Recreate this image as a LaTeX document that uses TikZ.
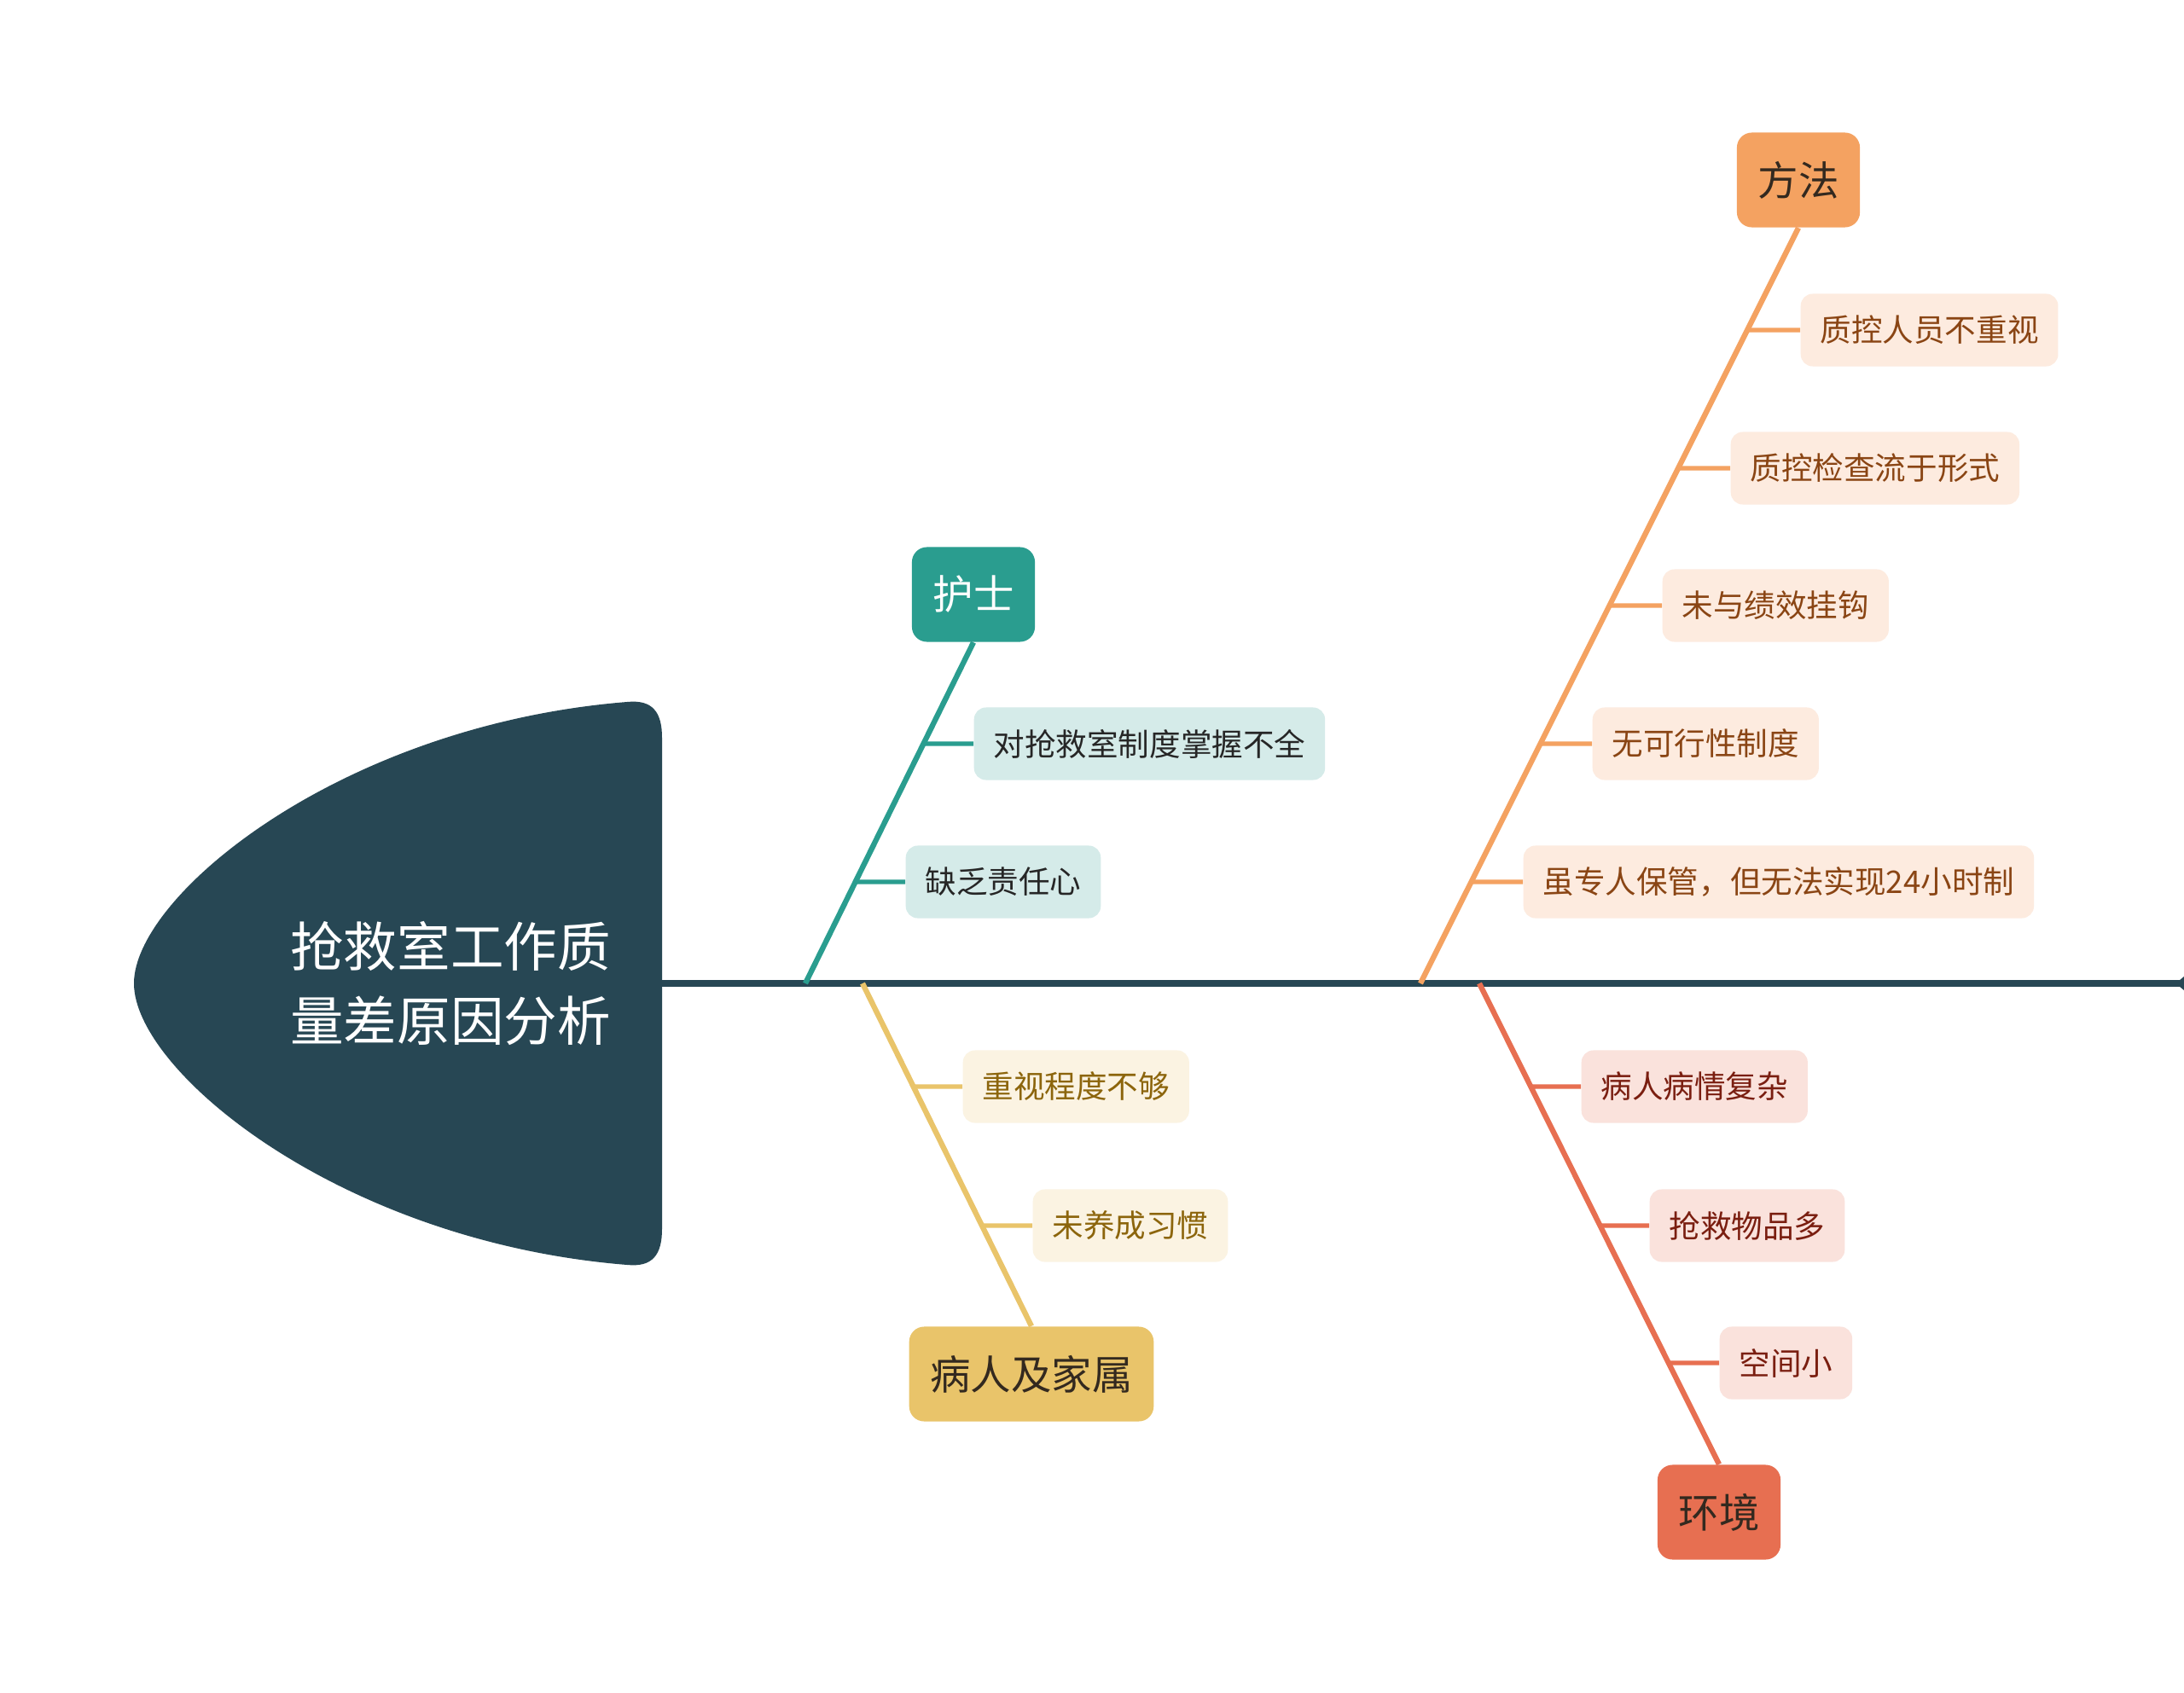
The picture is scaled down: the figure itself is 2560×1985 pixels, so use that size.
\documentclass[tikz,border=0pt]{standalone}
\usepackage{fontspec}
\newfontfamily\cjk{Noto Sans CJK SC}
\usetikzlibrary{arrows.meta}

\definecolor{headblue}{HTML}{274754}
\definecolor{teal1}{HTML}{2A9D8F}
\definecolor{teal2}{HTML}{D5EBE9}
\definecolor{orng1}{HTML}{F4A261}
\definecolor{orng2}{HTML}{FDEBDF}
\definecolor{orngtxt}{HTML}{8A4514}
\definecolor{yell1}{HTML}{E9C46A}
\definecolor{yell2}{HTML}{FBF3E2}
\definecolor{yelltxt}{HTML}{8C650C}
\definecolor{red1}{HTML}{E76F51}
\definecolor{red2}{HTML}{FAE2DC}
\definecolor{redtxt}{HTML}{7A1E10}
\definecolor{darktxt}{HTML}{33291F}

\tikzset{
  catbox/.style={rounded corners=5pt, minimum height=1.11cm, inner xsep=7pt, font=\cjk\fontsize{13.5pt}{16pt}\selectfont},
  leafbox/.style={rounded corners=4pt, minimum height=0.85cm, inner xsep=6.5pt, anchor=west, font=\cjk\fontsize{10.4pt}{12pt}\selectfont},
  bone/.style={line width=1.8pt},
  twig/.style={line width=1.5pt}
}

\begin{document}
\begin{tikzpicture}[x=0.01cm, y=-0.01cm]
\useasboundingbox (0,0) rectangle (2560,1985);
\fill[white] (0,0) rectangle (2560,1985);

% fish head
\fill[headblue] (157,1153) .. controls (157,1050) and (400,850) .. (735,823) .. controls (765,820) and (776,835) .. (776,865) -- (776,1441) .. controls (776,1471) and (765,1486) .. (735,1483) .. controls (400,1456) and (157,1256) .. (157,1153) -- cycle;
\node[font=\cjk\fontsize{17.8pt}{24.8pt}\selectfont, text=white, align=left] (title) at (528,1153) {抢救室工作质\\量差原因分析};

% spine
\coordinate (tail) at (776,1153);
\coordinate (spineend) at (2582,1153);
\draw[headblue, line width=2.3pt, -{Kite[length=9pt,width=10pt,inset=6pt]}] (tail) -- (spineend);

% categories
\node[catbox, fill=teal1, text=white] (hushi) at (1141,697) {护士};
\node[catbox, fill=orng1, text=darktxt] (fangfa) at (2108,211) {方法};
\node[catbox, fill=yell1, text=darktxt] (bingren) at (1209,1611) {病人及家属};
\node[catbox, fill=red1, text=darktxt] (huanjing) at (2015,1773) {环境};

\coordinate (jhushi) at (944,1153);
\coordinate (jbingren) at (1011,1153);
\coordinate (jfangfa) at (1665,1153);
\coordinate (jhuanjing) at (1734,1153);

\draw[bone, teal1] (jhushi) -- (hushi.south);
\draw[bone, yell1] (jbingren) -- (bingren.north);
\draw[bone, orng1] (jfangfa) -- (fangfa.south);
\draw[bone, red1] (jhuanjing) -- (huanjing.north);

% causes
\node[leafbox, fill=teal2, text=black!85] (zhidu) at (1141,872) {对抢救室制度掌握不全};
\node[leafbox, fill=teal2, text=black!85] (zeren) at (1061,1034) {缺乏责任心};

\node[leafbox, fill=yell2, text=yelltxt] (zhongshi) at (1128,1274) {重视程度不够};
\node[leafbox, fill=yell2, text=yelltxt] (xiguan) at (1210,1437) {未养成习惯};

\node[leafbox, fill=orng2, text=orngtxt] (zhikong) at (2110,387) {质控人员不重视};
\node[leafbox, fill=orng2, text=orngtxt] (jiancha) at (2028,549) {质控检查流于形式};
\node[leafbox, fill=orng2, text=orngtxt] (jixiao) at (1948,710) {未与绩效挂钩};
\node[leafbox, fill=orng2, text=orngtxt] (kexing) at (1866,872) {无可行性制度};
\node[leafbox, fill=orng2, text=orngtxt] (baoguan) at (1785,1034) {虽专人保管，但无法实现24小时制};

\node[leafbox, fill=red2, text=redtxt] (bingqing) at (1853,1274) {病人病情复杂};
\node[leafbox, fill=red2, text=redtxt] (wupin) at (1933,1437) {抢救物品多};
\node[leafbox, fill=red2, text=redtxt] (kongjian) at (2015,1598) {空间小};

\draw[twig, teal1] (zhidu.west) -- (intersection of jhushi--hushi.south and zhidu.west--zhidu.east);
\draw[twig, teal1] (zeren.west) -- (intersection of jhushi--hushi.south and zeren.west--zeren.east);
\draw[twig, yell1] (zhongshi.west) -- (intersection of jbingren--bingren.north and zhongshi.west--zhongshi.east);
\draw[twig, yell1] (xiguan.west) -- (intersection of jbingren--bingren.north and xiguan.west--xiguan.east);
\draw[twig, orng1] (zhikong.west) -- (intersection of jfangfa--fangfa.south and zhikong.west--zhikong.east);
\draw[twig, orng1] (jiancha.west) -- (intersection of jfangfa--fangfa.south and jiancha.west--jiancha.east);
\draw[twig, orng1] (jixiao.west) -- (intersection of jfangfa--fangfa.south and jixiao.west--jixiao.east);
\draw[twig, orng1] (kexing.west) -- (intersection of jfangfa--fangfa.south and kexing.west--kexing.east);
\draw[twig, orng1] (baoguan.west) -- (intersection of jfangfa--fangfa.south and baoguan.west--baoguan.east);
\draw[twig, red1] (bingqing.west) -- (intersection of jhuanjing--huanjing.north and bingqing.west--bingqing.east);
\draw[twig, red1] (wupin.west) -- (intersection of jhuanjing--huanjing.north and wupin.west--wupin.east);
\draw[twig, red1] (kongjian.west) -- (intersection of jhuanjing--huanjing.north and kongjian.west--kongjian.east);
\end{tikzpicture}
\end{document}
